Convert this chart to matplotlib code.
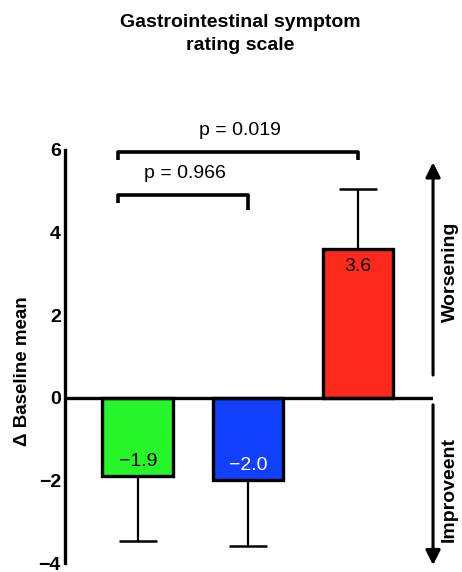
import matplotlib.pyplot as plt

plt.rcParams['font.family'] = ['Liberation Sans', 'DejaVu Sans']

# Change from baseline on the GSRS, per group
groups = ['Group A', 'Group B', 'Group C']
means = [-1.9, -2.0, 3.6]
sems = [1.56, 1.58, 1.46]
bar_labels = ['\u22121.9', '\u22122.0', '3.6']
colors = ['#26f52a', '#1240ff', '#fb2a1c']
label_colors = ['black', 'white', 'black']

# Pairwise comparisons: (left x, right x, bracket height, right tick drop, p label, label x)
comparisons = [
    (-0.18, 1.0, 4.92, 0.37, 'p = 0.966', 0.43),
    (-0.18, 2.0, 5.96, 0.20, 'p = 0.019', 0.93),
]

fig = plt.figure(figsize=(4.62, 5.72), dpi=100)
ax = fig.add_axes([0.1407, 0.0157, 0.7966, 0.7221])

x = range(len(groups))
# one-sided error bars pointing away from zero
lower = [s if m < 0 else 0 for m, s in zip(means, sems)]
upper = [s if m > 0 else 0 for m, s in zip(means, sems)]
ax.errorbar(x, means, yerr=[lower, upper], fmt='none', ecolor='black',
            elinewidth=1.6, capsize=13.5, capthick=1.8, zorder=1)
ax.bar(x, means, width=0.64, color=colors, edgecolor='black',
       linewidth=2.4, zorder=2)

for i, (m, lab, c) in enumerate(zip(means, bar_labels, label_colors)):
    off = -0.42 if m > 0 else 0.36
    ax.text(i, m + off, lab, ha='center', va='center', color=c,
            fontsize=14, zorder=3)

ax.axhline(0, color='black', lw=2.4, zorder=3)

for x0, x1, h, drop, lab, tx in comparisons:
    ax.plot([x0, x0, x1, x1], [h - 0.2, h, h, h - drop],
            color='black', lw=2.6, solid_capstyle='butt', clip_on=False)
    ax.text(tx, h + 0.52, lab, ha='center', va='center', fontsize=14,
            clip_on=False)

ax.set_xlim(-0.66, 2.68)
ax.set_ylim(-4, 6)
ax.set_yticks([-4, -2, 0, 2, 4, 6])
ax.set_yticklabels(['\u22124', '\u22122', '0', '2', '4', '6'],
                   fontweight='bold', fontsize=14)
ax.tick_params(axis='y', length=0, pad=3)
ax.set_xticks([])
for side in ['top', 'right', 'bottom']:
    ax.spines[side].set_visible(False)
ax.spines['left'].set_linewidth(2.4)
ax.set_ylabel('\u0394 Baseline mean', fontweight='bold', fontsize=13.5)
ax.yaxis.set_label_coords(-0.093, 0.465)

# direction arrows on the right edge
ax.annotate('', xy=(2.68, 5.7), xytext=(2.68, 0.55),
            arrowprops=dict(arrowstyle='-|>', color='black', lw=2.2,
                            mutation_scale=22, shrinkA=0, shrinkB=0),
            annotation_clip=False)
ax.annotate('', xy=(2.68, -4.05), xytext=(2.68, -0.17),
            arrowprops=dict(arrowstyle='-|>', color='black', lw=2.2,
                            mutation_scale=22, shrinkA=0, shrinkB=0),
            annotation_clip=False)
ax.text(2.84, 3.05, 'Worsening', rotation=90, ha='center', va='center',
        fontweight='bold', fontsize=14, clip_on=False)
ax.text(2.83, -2.23, 'Improveent', rotation=90, ha='center', va='center',
        fontweight='bold', fontsize=14, clip_on=False)

fig.text(0.52, 0.94, 'Gastrointestinal symptom\nrating scale', ha='center',
         va='center', fontweight='bold', fontsize=14, linespacing=1.45)

fig.savefig('out.png', dpi=100)
